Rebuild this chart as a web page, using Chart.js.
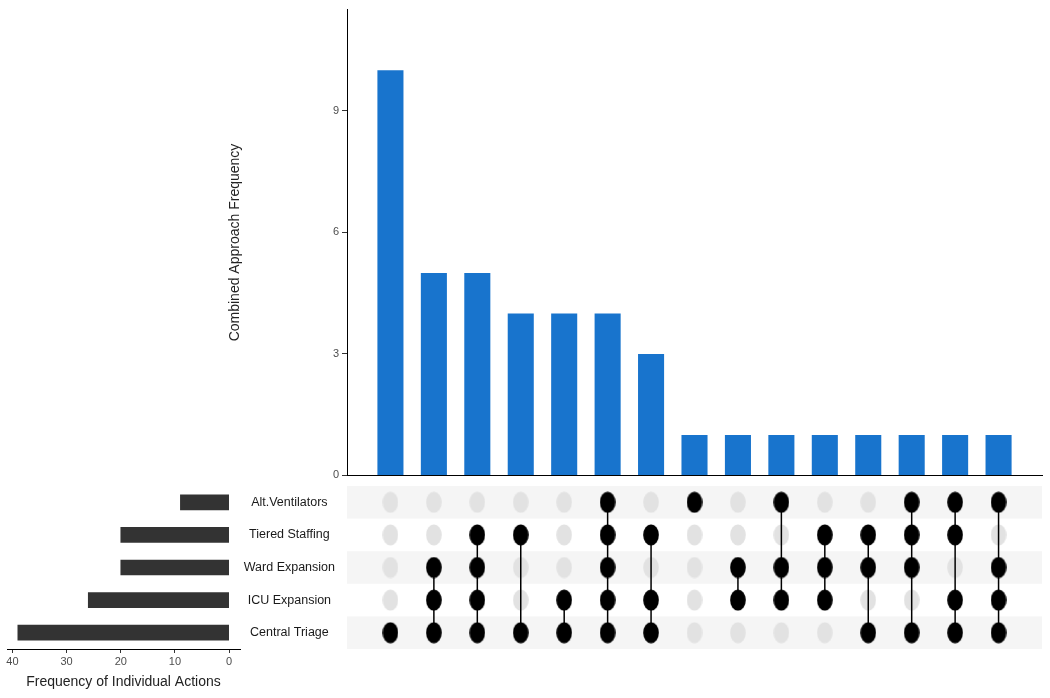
<!DOCTYPE html>
<html>
<head>
<meta charset="utf-8">
<script src="https://cdn.jsdelivr.net/npm/chart.js@4/dist/chart.umd.min.js"></script>
<style>
  body { margin: 0; background: #fff; width: 1050px; height: 698px; position: relative; overflow: hidden; }
  canvas { position: absolute; }
</style>
</head>
<body>
<canvas id="leftChart" width="245" height="212" style="left:0;top:486px"></canvas>
<canvas id="topChart" width="830" height="485" style="left:220px;top:0"></canvas>
<canvas id="matrixChart" width="830" height="179" style="left:220px;top:478px"></canvas>
<script>
// set names, top to bottom as in the matrix
const sets = ['Alt.Ventilators', 'Tiered Staffing', 'Ward Expansion', 'ICU Expansion', 'Central Triage'];
const setSizes = [9, 20, 20, 26, 39];

// combinations, left to right
const combinations = [
    ['Central Triage'],
    ['Ward Expansion', 'ICU Expansion', 'Central Triage'],
    ['Tiered Staffing', 'Ward Expansion', 'ICU Expansion', 'Central Triage'],
    ['Tiered Staffing', 'Central Triage'],
    ['ICU Expansion', 'Central Triage'],
    ['Alt.Ventilators', 'Tiered Staffing', 'Ward Expansion', 'ICU Expansion', 'Central Triage'],
    ['Tiered Staffing', 'ICU Expansion', 'Central Triage'],
    ['Alt.Ventilators'],
    ['Ward Expansion', 'ICU Expansion'],
    ['Alt.Ventilators', 'Ward Expansion', 'ICU Expansion'],
    ['Tiered Staffing', 'Ward Expansion', 'ICU Expansion'],
    ['Tiered Staffing', 'Ward Expansion', 'Central Triage'],
    ['Alt.Ventilators', 'Tiered Staffing', 'Ward Expansion', 'Central Triage'],
    ['Alt.Ventilators', 'Tiered Staffing', 'ICU Expansion', 'Central Triage'],
    ['Alt.Ventilators', 'Ward Expansion', 'ICU Expansion', 'Central Triage'],
];
const combinationCounts = [10, 5, 5, 4, 4, 4, 3, 1, 1, 1, 1, 1, 1, 1, 1];

const topTicks = [0, 3, 6, 9];
const leftTicks = [0, 10, 20, 30, 40];

const FONT = 'Liberation Sans, Arial, sans-serif';
Chart.defaults.font.family = FONT;
Chart.defaults.animation = false;
Chart.defaults.responsive = false;
Chart.defaults.devicePixelRatio = 1;
Chart.defaults.plugins.legend.display = false;
Chart.defaults.plugins.tooltip.enabled = false;

// top bars: combination sizes
new Chart(document.getElementById('topChart'), {
    type: 'bar',
    data: {
        datasets: [{
            data: combinationCounts.map((v, i) => ({ x: i + 1, y: v })),
            backgroundColor: '#1874CD',
            barPercentage: 0.6,
            categoryPercentage: 1,
        }],
    },
    options: {
        layout: { padding: { top: 8, bottom: 1, left: 0, right: 8 } },
        scales: {
            x: {
                type: 'linear', min: 0, max: 16, offset: false,
                grid: { display: false, drawTicks: false },
                ticks: { display: false },
                border: { display: true, color: '#000', width: 1 },
            },
            y: {
                min: 0, max: 11.5,
                afterBuildTicks: s => { s.ticks = topTicks.map(v => ({ value: v })); },
                afterFit: s => { s.width = 127; },
                grid: { drawOnChartArea: false, tickLength: 5, color: '#333' },
                border: { display: true, color: '#000', width: 1 },
                ticks: { color: '#4d4d4d', font: { size: 11 }, padding: 3 },
                title: {
                    display: true, text: 'Combined Approach Frequency',
                    color: '#222', font: { size: 14 }, padding: { top: 7 },
                },
            },
        },
    },
});

// ellipse markers for the matrix
function ellipse(color) {
    const c = document.createElement('canvas');
    c.width = 16; c.height = 22;
    const g = c.getContext('2d');
    g.fillStyle = color;
    g.beginPath();
    g.ellipse(8, 11, 7.8, 10.5, 0, 0, Math.PI * 2);
    g.fill();
    return c;
}
const greyDot = ellipse('#e2e2e2');
const blackDot = ellipse('#000');

const stripes = {
    id: 'stripes',
    beforeDatasetsDraw(chart) {
        const { ctx, chartArea, scales: { y } } = chart;
        const band = (chartArea.bottom - chartArea.top) / sets.length;
        ctx.save();
        ctx.fillStyle = '#f5f5f5';
        sets.forEach((s, i) => {
            if (i % 2 === 0) {
                const c = y.getPixelForValue(i);
                ctx.fillRect(chartArea.left, c - band / 2, chartArea.right - chartArea.left, band);
            }
        });
        ctx.restore();
    },
};

const matrixDatasets = [];
// all cells as grey dots
matrixDatasets.push({
    data: combinations.flatMap((c, i) => sets.map(s => ({ x: i + 1, y: s }))),
    pointStyle: greyDot,
    order: 3,
});
// connecting lines
combinations.forEach((c, i) => {
    if (c.length > 1) {
        const members = sets.filter(s => c.includes(s));
        matrixDatasets.push({
            data: members.map(s => ({ x: i + 1, y: s })),
            showLine: true,
            borderColor: '#000',
            borderWidth: 1.5,
            pointRadius: 0,
            order: 2,
        });
    }
});
// member dots
matrixDatasets.push({
    data: combinations.flatMap((c, i) => c.map(s => ({ x: i + 1, y: s }))),
    pointStyle: blackDot,
    order: 1,
});

new Chart(document.getElementById('matrixChart'), {
    type: 'scatter',
    data: { datasets: matrixDatasets },
    options: {
        layout: { autoPadding: false, padding: { top: 8, bottom: 8, left: 0, right: 8 } },
        scales: {
            x: { type: 'linear', min: 0, max: 16, display: false },
            y: {
                type: 'category', labels: sets, offset: true,
                afterFit: s => { s.width = 127; },
                grid: { display: false, drawTicks: true, tickLength: 12 },
                border: { display: false },
                ticks: { crossAlign: 'center', padding: 0, color: '#1a1a1a', font: { size: 12.5 } },
            },
        },
    },
    plugins: [stripes],
});

// left bars: set sizes
new Chart(document.getElementById('leftChart'), {
    type: 'bar',
    data: {
        labels: sets,
        datasets: [{
            data: setSizes,
            backgroundColor: '#333333',
            barThickness: 15,
        }],
    },
    options: {
        indexAxis: 'y',
        layout: { padding: { top: 0, bottom: 0, left: 7, right: 5 } },
        scales: {
            y: { display: false, offset: true },
            x: {
                min: -2, max: 41, reverse: true,
                afterBuildTicks: s => { s.ticks = leftTicks.map(v => ({ value: v })); },
                afterFit: s => { s.height = 49; },
                grid: { drawOnChartArea: false, tickLength: 4, color: '#333' },
                border: { display: true, color: '#000', width: 1 },
                ticks: { color: '#4d4d4d', font: { size: 11 }, padding: 2, maxRotation: 0 },
                title: {
                    display: true, text: 'Frequency of Individual Actions',
                    color: '#222', font: { size: 14 }, padding: { top: 0, bottom: 7 },
                },
            },
        },
    },
});
</script>
</body>
</html>
